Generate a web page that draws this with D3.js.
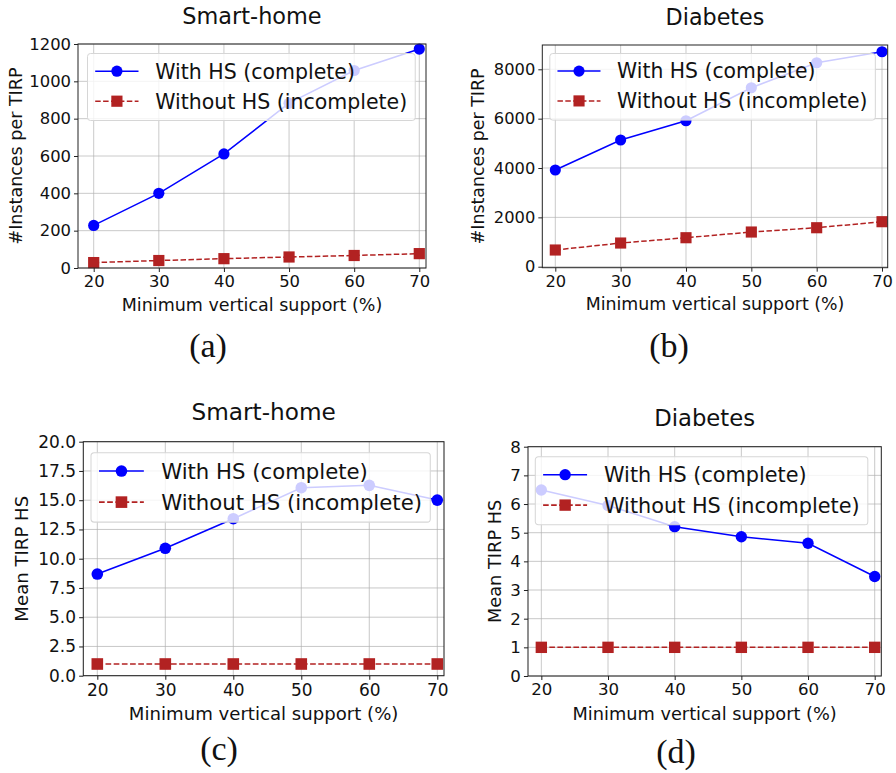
<!DOCTYPE html>
<html>
<head>
<meta charset="utf-8">
<script src="https://cdn.jsdelivr.net/npm/d3@7"></script>
<style>
    body { margin: 0; background: #fff; }
    svg { display: block; }
    text { font-family: "DejaVu Sans", sans-serif; fill: #111; }
    .sub-label { font-family: "Liberation Serif", serif; }
</style>
</head>
<body>
<div id="chart"></div>
<script>
// Values
const supportLevels = [20, 30, 40, 50, 60, 70];

const smartInstancesWith = [228, 400, 611, 883, 1058, 1173];
const smartInstancesWithout = [29, 40, 50, 59, 67, 77];
const diabetesInstancesWith = [3919, 5134, 5917, 7254, 8267, 8713];
const diabetesInstancesWithout = [677, 960, 1175, 1406, 1580, 1824];

const smartMeanHsWith = [8.69, 10.89, 13.42, 16.07, 16.27, 15.01];
const smartMeanHsWithout = [1, 1, 1, 1, 1, 1];
const diabetesMeanHsWith = [6.49, 5.95, 5.21, 4.86, 4.63, 3.47];
const diabetesMeanHsWithout = [1, 1, 1, 1, 1, 1];

// Tick labels
const xTicks = [20, 30, 40, 50, 60, 70];
const smartInstanceTicks = [0, 200, 400, 600, 800, 1000, 1200];
const diabetesInstanceTicks = [0, 2000, 4000, 6000, 8000];
const smartMeanHsTicks = [0, 2.5, 5, 7.5, 10, 12.5, 15, 17.5, 20];
const diabetesMeanHsTicks = [0, 1, 2, 3, 4, 5, 6, 7, 8];

const seriesLabels = ['With HS (complete)', 'Without HS (incomplete)'];
const xLabel = 'Minimum vertical support (%)';

const width = 896;
const height = 773;

const svg = d3.select('#chart')
    .append('svg')
    .attr('width', width)
    .attr('height', height);

svg.append('rect')
    .attr('width', width)
    .attr('height', height)
    .attr('fill', '#fff');

/**
 * Draws one sub-plot: axes, grid, both series, legend, titles
 */
function drawPanel(cfg) {
    const s = cfg.scale;
    const g = svg.append('g');

    const x = d3.scaleLinear().domain(cfg.xDomain).range([cfg.left, cfg.right]);
    const y = d3.scaleLinear().domain(cfg.yDomain).range([cfg.bottom, cfg.top]);

    // Grid
    g.append('g')
        .selectAll('line.vgrid')
        .data(xTicks)
        .enter()
        .append('line')
        .attr('x1', d => x(d)).attr('x2', d => x(d))
        .attr('y1', cfg.top).attr('y2', cfg.bottom)
        .attr('stroke', '#b0b0b0')
        .attr('stroke-opacity', 0.75)
        .attr('stroke-width', 0.9 * s);

    g.append('g')
        .selectAll('line.hgrid')
        .data(cfg.yTicks)
        .enter()
        .append('line')
        .attr('x1', cfg.left).attr('x2', cfg.right)
        .attr('y1', d => y(d)).attr('y2', d => y(d))
        .attr('stroke', '#b0b0b0')
        .attr('stroke-opacity', 0.75)
        .attr('stroke-width', 0.9 * s);

    // Axes
    const xAxis = d3.axisBottom(x)
        .tickValues(xTicks)
        .tickFormat(d3.format('d'))
        .tickSize(4 * s)
        .tickPadding(3.5 * s);

    const yAxis = d3.axisLeft(y)
        .tickValues(cfg.yTicks)
        .tickFormat(cfg.yFormat)
        .tickSize(4 * s)
        .tickPadding(3 * s);

    const gx = g.append('g')
        .attr('transform', `translate(0,${cfg.bottom})`)
        .call(xAxis);
    const gy = g.append('g')
        .attr('transform', `translate(${cfg.left},0)`)
        .call(yAxis);

    [gx, gy].forEach(ax => {
        ax.select('.domain').remove();
        ax.selectAll('line').attr('stroke', '#222').attr('stroke-width', 1 * s);
        ax.selectAll('text')
            .attr('font-size', 16.4 * s)
            .attr('font-family', '"DejaVu Sans", sans-serif')
            .attr('fill', '#111');
    });

    // Series
    const series = [
        { values: cfg.withHs, color: '#0000ff', dash: null, marker: 'circle' },
        { values: cfg.withoutHs, color: '#b22222', dash: `${5.5 * s},${2.4 * s}`, marker: 'square' }
    ];

    const line = d3.line()
        .x((d, i) => x(supportLevels[i]))
        .y(d => y(d));

    series.forEach(ser => {
        g.append('path')
            .datum(ser.values)
            .attr('d', line)
            .attr('fill', 'none')
            .attr('stroke', ser.color)
            .attr('stroke-width', 1.5 * s)
            .attr('stroke-dasharray', ser.dash);

        drawMarkers(g, ser, ser.values.map((v, i) => [x(supportLevels[i]), y(v)]), s);
    });

    // Frame
    g.append('rect')
        .attr('x', cfg.left)
        .attr('y', cfg.top)
        .attr('width', cfg.right - cfg.left)
        .attr('height', cfg.bottom - cfg.top)
        .attr('fill', 'none')
        .attr('stroke', '#222')
        .attr('stroke-width', 1 * s);

    // Legend
    const lg = g.append('g')
        .attr('transform', `translate(${cfg.left + cfg.legendDx},${cfg.top + cfg.legendDy})`);
    const box = lg.append('rect')
        .attr('rx', 3 * s)
        .attr('fill', '#fff')
        .attr('fill-opacity', 0.8)
        .attr('stroke', '#d6d6d6')
        .attr('stroke-width', 1 * s);

    let maxText = 0;
    series.forEach((ser, i) => {
        const rowY = (17.7 + i * 30) * s;
        lg.append('line')
            .attr('x1', 7.7 * s).attr('x2', 51 * s)
            .attr('y1', rowY).attr('y2', rowY)
            .attr('stroke', ser.color)
            .attr('stroke-width', 1.5 * s)
            .attr('stroke-dasharray', ser.dash);
        drawMarkers(lg, ser, [[29.4 * s, rowY]], s);
        const t = lg.append('text')
            .attr('x', 67.7 * s)
            .attr('y', rowY)
            .attr('dy', '0.36em')
            .attr('font-size', 20.5 * s)
            .text(seriesLabels[i]);
        maxText = Math.max(maxText, t.node().getComputedTextLength());
    });
    box.attr('width', 67.7 * s + maxText + 8 * s)
        .attr('height', 67 * s);

    // Titles and labels
    g.append('text')
        .attr('x', (cfg.left + cfg.right) / 2)
        .attr('y', cfg.top - 20.5 * s)
        .attr('text-anchor', 'middle')
        .attr('font-size', 22.4 * s)
        .text(cfg.title);

    g.append('text')
        .attr('x', (cfg.left + cfg.right) / 2)
        .attr('y', cfg.bottom + 43 * s)
        .attr('text-anchor', 'middle')
        .attr('font-size', 17.5 * s)
        .text(xLabel);

    g.append('text')
        .attr('transform', `translate(${cfg.yLabelX},${(cfg.top + cfg.bottom) / 2}) rotate(-90)`)
        .attr('text-anchor', 'middle')
        .attr('dy', '0.36em')
        .attr('font-size', 17.5 * s)
        .text(cfg.yLabel);

    g.append('text')
        .attr('class', 'sub-label')
        .attr('x', cfg.subX)
        .attr('y', cfg.subY)
        .attr('text-anchor', 'middle')
        .attr('font-size', 34)
        .text(cfg.sub);
}

function drawMarkers(parent, ser, points, s) {
    if (ser.marker === 'circle') {
        parent.append('g')
            .selectAll('circle')
            .data(points)
            .enter()
            .append('circle')
            .attr('cx', d => d[0])
            .attr('cy', d => d[1])
            .attr('r', 5.6 * s)
            .attr('fill', ser.color);
    } else {
        const half = 5.6 * s;
        parent.append('g')
            .selectAll('rect')
            .data(points)
            .enter()
            .append('rect')
            .attr('x', d => d[0] - half)
            .attr('y', d => d[1] - half)
            .attr('width', half * 2)
            .attr('height', half * 2)
            .attr('fill', ser.color);
    }
}

const fmtInt = d3.format('d');
const fmtOne = d3.format('.1f');

const panels = [
    {
        title: 'Smart-home', sub: '(a)', yLabel: '#Instances per TIRP',
        withHs: smartInstancesWith, withoutHs: smartInstancesWithout,
        yTicks: smartInstanceTicks, yFormat: fmtInt,
        left: 78, right: 426, top: 44, bottom: 268, scale: 1,
        xDomain: [17.59, 71.03], yDomain: [0, 1200],
        legendDx: 9.5, legendDy: 9.5, yLabelX: 16, subX: 208, subY: 357
    },
    {
        title: 'Diabetes', sub: '(b)', yLabel: '#Instances per TIRP',
        withHs: diabetesInstancesWith, withoutHs: diabetesInstancesWithout,
        yTicks: diabetesInstanceTicks, yFormat: fmtInt,
        left: 542.3, right: 887.7, top: 45, bottom: 267.7, scale: 0.994,
        xDomain: [18.01, 70.87], yDomain: [-40, 8985],
        legendDx: 7.5, legendDy: 8.5, yLabelX: 478, subX: 669, subY: 357
    },
    {
        title: 'Smart-home', sub: '(c)', yLabel: 'Mean TIRP HS',
        withHs: smartMeanHsWith, withoutHs: smartMeanHsWithout,
        yTicks: smartMeanHsTicks, yFormat: fmtOne,
        left: 83.3, right: 444, top: 441.7, bottom: 675.7, scale: 1.036,
        xDomain: [17.94, 70.99], yDomain: [0, 20],
        legendDx: 7.7, legendDy: 11, yLabelX: 21.7, subX: 219, subY: 760
    },
    {
        title: 'Diabetes', sub: '(d)', yLabel: 'Mean TIRP HS',
        withHs: diabetesMeanHsWith, withoutHs: diabetesMeanHsWithout,
        yTicks: diabetesMeanHsTicks, yFormat: fmtInt,
        left: 528, right: 881.3, top: 446.7, bottom: 676, scale: 1.015,
        xDomain: [18.0, 70.99], yDomain: [0, 8],
        legendDx: 7.3, legendDy: 10, yLabelX: 494.7, subX: 676, subY: 763
    }
];

panels.forEach(drawPanel);
</script>
</body>
</html>
